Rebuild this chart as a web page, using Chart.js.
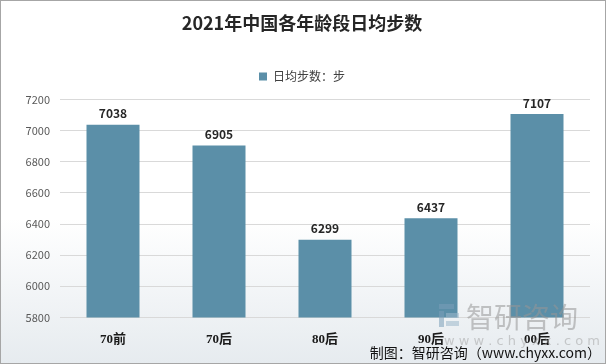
<!DOCTYPE html>
<html>
<head>
<meta charset="utf-8">
<script src="https://cdn.jsdelivr.net/npm/chart.js@4/dist/chart.umd.min.js"></script>
<style>
  html, body { margin: 0; padding: 0; background: #fff; }
  #wrap { width: 606px; height: 364px; position: relative; }
</style>
</head>
<body>
<div id="wrap"><canvas id="c" width="606" height="364"></canvas></div>
<script>
// data
const categories = ['70前', '70后', '80后', '90后', '00后'];
const steps = [7038, 6905, 6299, 6437, 7107];
const seriesName = '日均步数：步';
const yTicks = { min: 5800, max: 7200, step: 200 };

const CJK = '"Noto Sans CJK SC", "Microsoft YaHei", sans-serif';

// background gradient + border
const bgPlugin = {
  id: 'bg',
  beforeDraw(chart) {
    const { ctx, width, height } = chart;
    ctx.save();
    const g = ctx.createLinearGradient(0, 0, 0, height);
    g.addColorStop(0, '#ffffff');
    g.addColorStop(0.6, '#ffffff');
    g.addColorStop(1, '#e6ebef');
    ctx.fillStyle = g;
    ctx.fillRect(0, 0, width, height);
    ctx.strokeStyle = '#a6a6a6';
    ctx.lineWidth = 1;
    ctx.strokeRect(0.5, 0.5, width - 1, height - 1);
    ctx.restore();
  }
};

// extra gap below the legend
const legendGap = {
  id: 'legendGap',
  afterInit(chart) {
    const lg = chart.legend;
    if (!lg) return;
    const fit = lg.fit.bind(lg);
    lg.fit = function () { fit(); this.height += 7; };
  }
};

// value labels above bars
const labelPlugin = {
  id: 'vals',
  afterDatasetsDraw(chart) {
    const { ctx } = chart;
    const meta = chart.getDatasetMeta(0);
    ctx.save();
    ctx.font = 'bold 12px ' + CJK;
    ctx.fillStyle = '#262626';
    ctx.textAlign = 'center';
    ctx.textBaseline = 'bottom';
    meta.data.forEach((bar, i) => {
      ctx.fillText(steps[i], bar.x, bar.y - 5);
    });
    ctx.restore();
  }
};

// watermark + source note
const markPlugin = {
  id: 'mark',
  afterDraw(chart) {
    const { ctx } = chart;
    ctx.save();
    // logo
    ctx.globalAlpha = 0.55;
    ctx.fillStyle = '#7a9fb8';
    ctx.fillRect(439, 304, 15, 5);
    ctx.fillRect(439, 311, 5, 16);
    ctx.fillStyle = '#9db8ca';
    ctx.fillRect(446, 313, 13, 5);
    ctx.fillRect(446, 321, 13, 5);
    ctx.globalAlpha = 1;
    ctx.fillStyle = 'rgba(150,150,150,0.55)';
    ctx.font = '28px ' + CJK;
    ctx.textAlign = 'left';
    ctx.textBaseline = 'middle';
    ctx.fillText('智研咨询', 466, 317);
    ctx.font = '13px "DejaVu Sans", sans-serif';
    ctx.fillStyle = 'rgba(160,160,160,0.5)';
    ctx.fillText('w w w . c h y x x . c o m', 444, 342);
    // source
    ctx.fillStyle = '#111';
    ctx.font = '14px ' + CJK;
    ctx.textAlign = 'right';
    ctx.fillText('制图：智研咨询（www.chyxx.com）', 601, 353);
    ctx.restore();
  }
};

new Chart(document.getElementById('c'), {
  type: 'bar',
  data: {
    labels: categories,
    datasets: [{
      label: seriesName,
      data: steps,
      backgroundColor: '#5b8fa8',
      categoryPercentage: 1,
      barPercentage: 0.5
    }]
  },
  options: {
    responsive: false,
    animation: false,
    layout: { padding: { left: 14, right: 16, top: 10, bottom: 11 } },
    plugins: {
      title: {
        display: true,
        text: '2021年中国各年龄段日均步数',
        color: '#262626',
        font: { family: CJK, size: 18, weight: 'bold' },
        padding: { top: 2, bottom: 20 }
      },
      legend: {
        display: true,
        labels: {
          boxWidth: 8,
          boxHeight: 8,
          color: '#404040',
          font: { family: CJK, size: 12 },
          padding: 17
        }
      },
      tooltip: { enabled: false }
    },
    scales: {
      x: {
        grid: { display: false },
        border: { display: false },
        ticks: {
          color: '#1a1a1a',
          font: { family: '"Liberation Serif", ' + CJK, size: 13, weight: 'bold' },
          padding: 6
        }
      },
      y: {
        min: yTicks.min,
        max: yTicks.max,
        border: { display: false },
        grid: { color: '#d9d9d9', drawTicks: false },
        ticks: {
          stepSize: yTicks.step,
          color: '#595959',
          font: { family: CJK, size: 11 },
          padding: 10,
          callback: v => String(v)
        },
        afterFit(scale) { scale.width = 46; }
      }
    }
  },
  plugins: [bgPlugin, legendGap, labelPlugin, markPlugin]
});
</script>
</body>
</html>
